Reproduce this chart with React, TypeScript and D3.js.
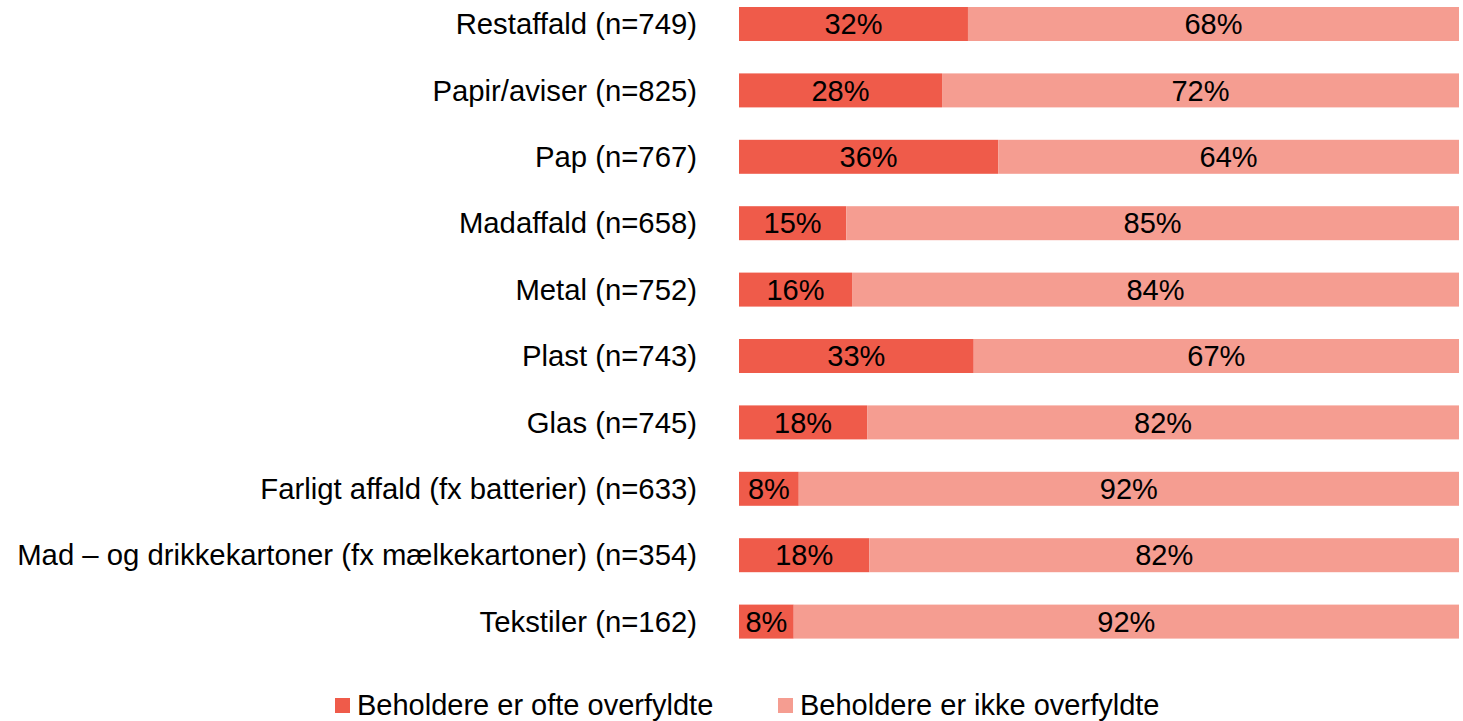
import React from 'react';
import * as d3 from 'd3';

// data
const categories = [
  'Restaffald (n=749)',
  'Papir/aviser (n=825)',
  'Pap (n=767)',
  'Madaffald (n=658)',
  'Metal (n=752)',
  'Plast (n=743)',
  'Glas (n=745)',
  'Farligt affald (fx batterier) (n=633)',
  'Mad – og drikkekartoner (fx mælkekartoner) (n=354)',
  'Tekstiler (n=162)',
];
const oftenFull = [31.8, 28.2, 36.0, 14.9, 15.7, 32.6, 17.8, 8.3, 18.1, 7.6];
const notFull = [68.2, 71.8, 64.0, 85.1, 84.3, 67.4, 82.2, 91.7, 81.9, 92.4];
const seriesNames = ['Beholdere er ofte overfyldte', 'Beholdere er ikke overfyldte'];
const colors = ['#EF5B4A', '#F59D91'];

const W = 1463;
const H = 721;
const FONT = '"Liberation Sans", Arial, sans-serif';

export default function App() {
  const x = d3.scaleLinear().domain([0, 100]).range([739, 1459]);
  const y = d3
    .scaleBand<string>()
    .domain(categories)
    .range([-9.2, 654.8])
    .paddingInner(0.488)
    .paddingOuter(0.244);

  const stacked = d3
    .stack<any>()
    .keys(['a', 'b'])(categories.map((c, i) => ({ cat: c, a: oftenFull[i], b: notFull[i] })));

  return (
    <div style={{ position: 'absolute', left: 0, top: 0 }}>
      <svg width={W} height={H} style={{ display: 'block', fontFamily: FONT }}>
        <rect width={W} height={H} fill="#fff" />
        {categories.map((c) => (
          <text
            key={c}
            x={697}
            y={y(c)! + y.bandwidth() / 2}
            dy="0.35em"
            textAnchor="end"
            fontSize={29.3}
            fill="#000"
          >
            {c}
          </text>
        ))}
        {stacked.map((layer, li) => (
          <g key={li}>
            {layer.map((d, i) => {
              const x0 = x(d[0]);
              const x1 = x(d[1]);
              const yy = y(categories[i])!;
              return (
                <g key={i}>
                  <rect x={x0} y={yy} width={x1 - x0} height={y.bandwidth()} fill={colors[li]} />
                  <text
                    x={(x0 + x1) / 2}
                    y={yy + y.bandwidth() / 2}
                    dy="0.35em"
                    textAnchor="middle"
                    fontSize={29}
                    fill="#000"
                  >
                    {Math.round(d[1] - d[0])}%
                  </text>
                </g>
              );
            })}
          </g>
        ))}
        {seriesNames.map((s, i) => {
          const lx = [335, 778][i];
          return (
            <g key={s}>
              <rect x={lx} y={698} width={15} height={15} fill={colors[i]} />
              <text x={lx + 22} y={705} dy="0.35em" fontSize={29} fill="#000">
                {s}
              </text>
            </g>
          );
        })}
      </svg>
    </div>
  );
}
